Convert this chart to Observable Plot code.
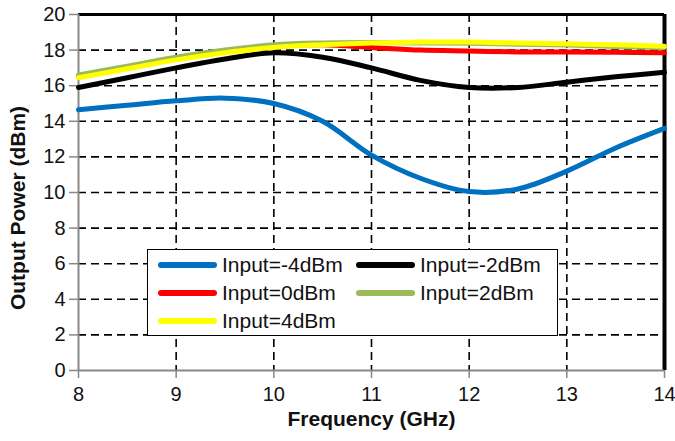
<!DOCTYPE html>
<html>
<head>
<meta charset="utf-8">
<script src="https://cdn.jsdelivr.net/npm/d3@7"></script>
<script src="https://cdn.jsdelivr.net/npm/@observablehq/plot@0.6"></script>
<style>
  html, body { margin: 0; padding: 0; background: #fff; }
  #wrap { position: relative; width: 675px; height: 441px; font-family: "Liberation Sans", Arial, sans-serif; }
  #legend { position: absolute; left: 147px; top: 249px; width: 409px; height: 85px; border: 1.5px solid #000; background: #fff; }
  .item { position: absolute; display: flex; align-items: center; font-size: 21px; color: #111; height: 24px; }
  .sw { width: 59px; height: 6px; border-radius: 3px; margin-right: 5px; }
  #ytitle { position: absolute; left: 17px; top: 208px; transform: translate(-50%, -50%) rotate(-90deg); white-space: nowrap; font-weight: bold; font-size: 21px; color: #111; line-height: 1; }
</style>
</head>
<body>
<div id="wrap"></div>
<script>
const freq = [8, 8.5, 9, 9.5, 10, 10.5, 11, 11.5, 12, 12.5, 13, 13.5, 14];
const pM4 = [14.65, 14.9, 15.15, 15.3, 15.0, 14.0, 12.1, 10.8, 10.05, 10.2, 11.2, 12.5, 13.6];
const pM2 = [15.9, 16.45, 17.0, 17.5, 17.85, 17.6, 17.0, 16.3, 15.9, 15.9, 16.2, 16.5, 16.75];
const p0  = [16.5, 17.05, 17.55, 17.95, 18.25, 18.3, 18.15, 18.0, 17.95, 17.9, 17.9, 17.88, 17.85];
const p2  = [16.6, 17.1, 17.6, 18.0, 18.3, 18.4, 18.42, 18.4, 18.38, 18.33, 18.28, 18.2, 18.15];
const p4  = [16.45, 16.95, 17.45, 17.85, 18.15, 18.3, 18.4, 18.45, 18.45, 18.4, 18.35, 18.3, 18.22];
const seriesNames = ["Input=-4dBm", "Input=-2dBm", "Input=0dBm", "Input=2dBm", "Input=4dBm"];
const seriesColors = ["#0070C0", "#000000", "#FF0000", "#9BBB59", "#FFFF00"];
const seriesValues = [pM4, pM2, p0, p2, p4];
const xTicks = [8, 9, 10, 11, 12, 13, 14];
const yTicks = [0, 2, 4, 6, 8, 10, 12, 14, 16, 18, 20];
const xTitle = "Frequency (GHz)";
const yTitle = "Output Power (dBm)";

const rows = [];
seriesValues.forEach((vals, i) => vals.forEach((v, j) => rows.push({series: seriesNames[i], f: freq[j], p: v})));

const dash = "8,5";
const chart = Plot.plot({
  width: 675, height: 441,
  marginLeft: 78, marginRight: 11, marginTop: 14, marginBottom: 71,
  style: {fontFamily: "Liberation Sans, Arial, sans-serif", fontSize: "20px", color: "#111", background: "#fff"},
  x: {domain: [8, 14]},
  y: {domain: [0, 20]},
  color: {domain: seriesNames, range: seriesColors},
  marks: [
    Plot.ruleX(xTicks.filter(d => d > 8 && d < 14), {stroke: "#000", strokeWidth: 1.6, strokeDasharray: dash}),
    Plot.ruleY(yTicks.filter(d => d > 0 && d < 20), {stroke: "#000", strokeWidth: 1.6, strokeDasharray: dash}),
    Plot.ruleY([20], {stroke: "#000", strokeWidth: 3}),
    Plot.ruleX([14], {stroke: "#000", strokeWidth: 4}),
    Plot.ruleX([8], {stroke: "#888", strokeWidth: 2}),
    Plot.ruleY([0], {stroke: "#888", strokeWidth: 2}),
    Plot.axisY({ticks: yTicks, tickFormat: "d", tickSize: 9, tickPadding: 4, stroke: "#888", strokeWidth: 1.5, fontSize: 20, label: null}),
    Plot.axisX({ticks: xTicks, tickFormat: "d", tickSize: 8, tickPadding: 8, stroke: "#888", strokeWidth: 1.5, fontSize: 20, label: null}),
    Plot.text([xTitle], {frameAnchor: "bottom", dy: 55, fontWeight: "bold", fontSize: 21}),
    Plot.line(rows, {x: "f", y: "p", z: "series", stroke: "series", strokeWidth: 5, curve: "catmull-rom"})
  ]
});
const wrap = document.getElementById("wrap");
wrap.appendChild(chart);

const yt = document.createElement("div");
yt.id = "ytitle";
yt.textContent = yTitle;
wrap.appendChild(yt);

const legend = document.createElement("div");
legend.id = "legend";
const pos = [[10, 15], [208, 15], [10, 43], [208, 43], [10, 71]];
seriesNames.forEach((name, i) => {
  const it = document.createElement("div");
  it.className = "item";
  it.style.left = pos[i][0] + "px";
  it.style.top = (pos[i][1] - 12) + "px";
  const sw = document.createElement("div");
  sw.className = "sw";
  sw.style.background = seriesColors[i];
  it.appendChild(sw);
  const t = document.createElement("span");
  t.textContent = name;
  it.appendChild(t);
  legend.appendChild(it);
});
wrap.appendChild(legend);
</script>
</body>
</html>
